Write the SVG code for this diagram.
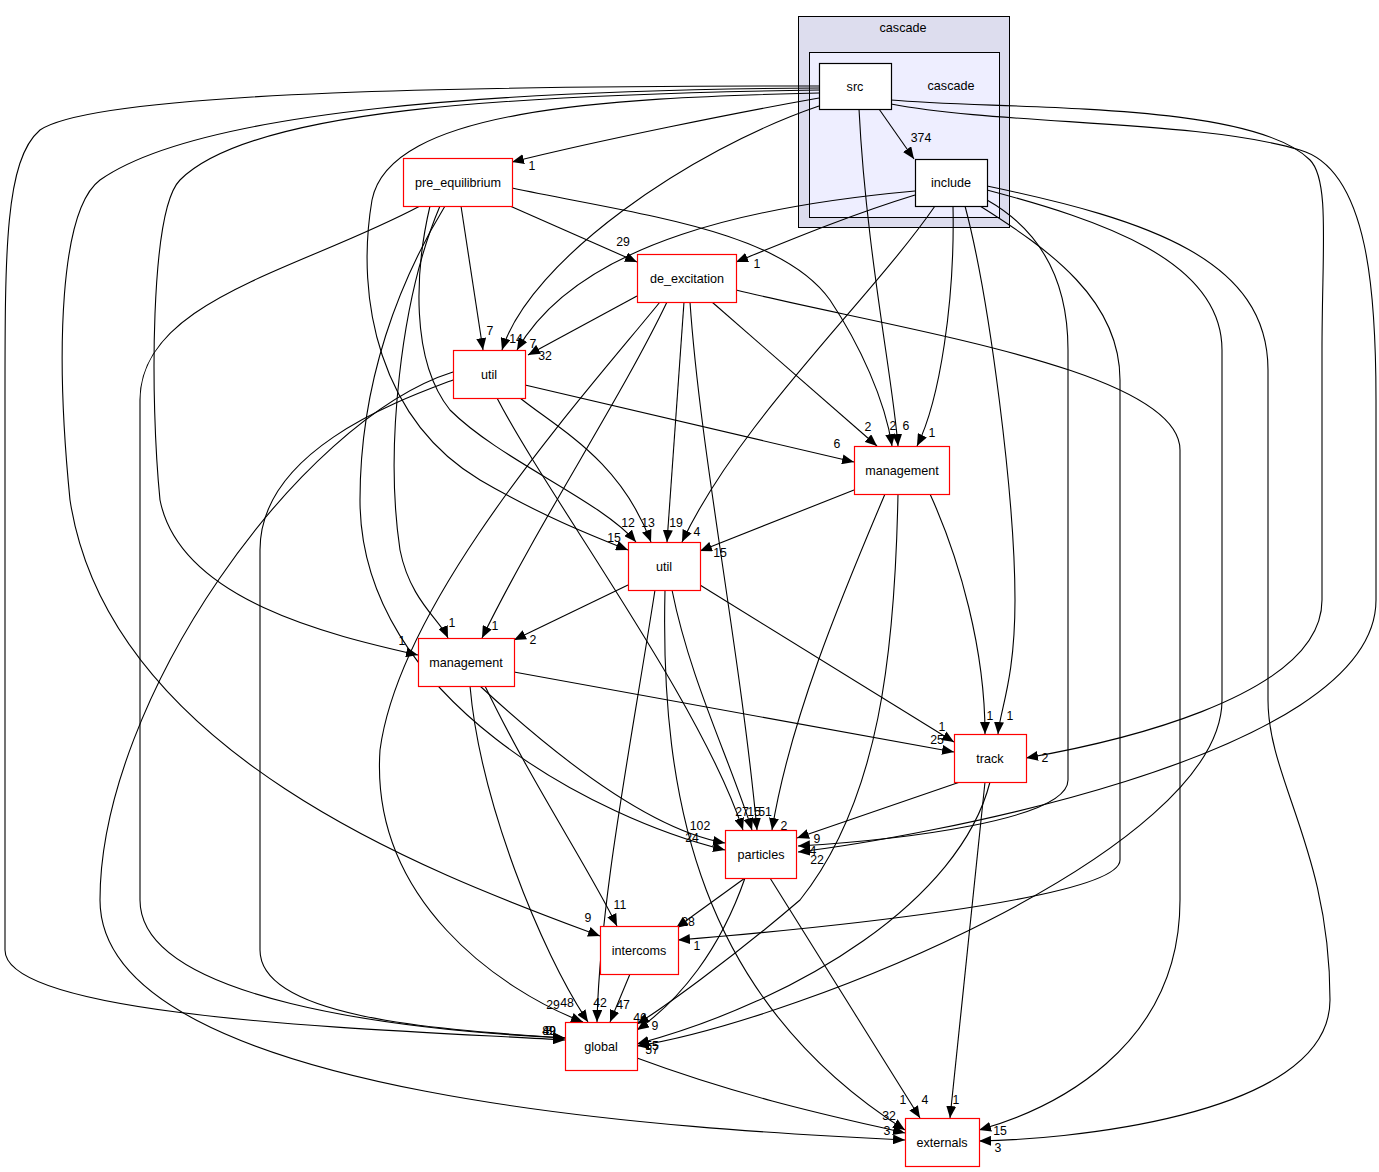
<svg xmlns="http://www.w3.org/2000/svg" width="1379" height="1172" viewBox="0 0 1379 1172">
<style>
text{font-family:"Liberation Sans",Arial,sans-serif;font-size:12.6px;fill:#000}
.n text,.c text{text-anchor:middle}
.n rect{fill:#fff;stroke:#ff0000;stroke-width:1.2}
.n.w rect{stroke:#000}
.e path{fill:none;stroke:#000;stroke-width:1.1;marker-end:url(#ah)}
.l text{text-anchor:middle;font-size:12.3px}
</style>
<defs>
<marker id="ah" markerUnits="userSpaceOnUse" markerWidth="12" markerHeight="10" refX="12" refY="5" orient="auto">
<path d="M0,0 L12,5 L0,10 z" fill="#000"/>
</marker>
</defs>
<rect width="1379" height="1172" fill="#fff"/>
<g class="c" id="cluster_outer">
<rect x="798.5" y="16.5" width="211" height="211" fill="#ddddee" stroke="#000"/>
<text x="903" y="32">cascade</text>
</g>
<g class="c" id="cluster_inner">
<rect x="809.5" y="52.5" width="190" height="165" fill="#eeeeff" stroke="#000"/>
<text x="951" y="90">cascade</text>
</g>
<g class="e" id="edges">
<path d="M879,109 L914,159"/>
<path d="M819,98 C740,112 600,140 512,162"/>
<path d="M859,109 C866,250 893,380 898,446"/>
<path d="M819,106 C690,150 530,260 502,350"/>
<path d="M819,93 C600,98 390,110 372,200 C355,300 380,420 480,480 C540,515 590,535 628,550"/>
<path d="M819,90 C500,95 250,110 180,180 C150,210 150,400 160,500 C180,600 330,635 418,655"/>
<path d="M819,88 C500,90 200,110 100,180 C60,210 55,350 70,500 C110,760 450,880 600,936"/>
<path d="M819,86 C500,86 100,90 40,130 C5,160 5,250 5,400 L5,950 C5,1020 400,1030 565,1040"/>
<path d="M891,100 C1000,110 1250,100 1310,160 C1330,180 1322,250 1322,350 L1322,600 C1322,700 1100,745 1026,758"/>
<path d="M891,104 C1000,125 1200,120 1300,150 C1370,170 1376,300 1376,400 L1376,600 C1376,760 900,840 798,852"/>
<path d="M915,191 C760,205 580,240 517,350"/>
<path d="M915,195 C850,215 790,240 736,262"/>
<path d="M935,206 C870,300 740,420 682,542"/>
<path d="M953,206 C955,300 940,400 917,446"/>
<path d="M965,206 C990,300 1015,500 1015,600 C1015,680 1000,710 998,734"/>
<path d="M987,200 C1040,230 1068,280 1068,350 L1068,780 C1068,820 900,840 798,846"/>
<path d="M980,206 C1050,250 1120,300 1120,380 L1120,860 C1120,900 800,930 678,940"/>
<path d="M987,190 C1100,220 1222,260 1222,350 L1222,700 C1222,850 800,1020 637,1046"/>
<path d="M987,186 C1150,220 1268,260 1268,370 L1268,700 C1268,780 1330,850 1330,1000 C1330,1120 1050,1140 979,1141"/>
<path d="M510,206 L637,262"/>
<path d="M461,206 L483,350"/>
<path d="M512,188 C640,215 780,230 830,300 C860,345 885,400 892,446"/>
<path d="M430,206 C415,270 410,360 450,410 C500,460 600,500 636,542"/>
<path d="M440,206 C400,300 385,450 400,550 C410,600 440,620 448,638"/>
<path d="M445,206 C400,280 360,380 360,500 C360,700 600,820 725,850"/>
<path d="M420,206 C300,270 140,300 140,400 L140,900 C140,1000 400,1030 565,1038"/>
<path d="M637,296 L528,355"/>
<path d="M712,302 L877,446"/>
<path d="M684,302 L667,542"/>
<path d="M667,302 C620,400 540,520 482,638"/>
<path d="M690,302 C700,450 740,650 757,830"/>
<path d="M660,302 C580,400 400,600 380,750 C370,900 500,990 583,1022"/>
<path d="M736,290 C900,330 1180,370 1180,450 L1180,900 C1180,1050 1050,1110 979,1130"/>
<path d="M525,385 L854,462"/>
<path d="M520,398 C560,430 620,460 651,542"/>
<path d="M497,398 C550,500 700,700 743,830"/>
<path d="M453,380 C400,400 260,450 260,550 L260,950 C260,1020 450,1030 565,1038"/>
<path d="M453,372 C300,420 100,700 100,900 C100,1100 700,1130 905,1140"/>
<path d="M854,490 L700,551"/>
<path d="M930,494 C960,560 985,650 985,734"/>
<path d="M885,494 C840,600 790,720 772,830"/>
<path d="M898,494 C895,650 880,800 800,900 C730,960 660,1010 637,1024"/>
<path d="M628,585 L514,640"/>
<path d="M700,585 L954,742"/>
<path d="M672,590 C690,680 730,760 752,830"/>
<path d="M655,590 C630,750 600,900 597,1022"/>
<path d="M665,590 C660,800 700,1000 905,1130"/>
<path d="M514,672 L954,752"/>
<path d="M480,686 C560,760 650,830 725,843"/>
<path d="M485,686 C530,780 590,870 617,926"/>
<path d="M470,686 C480,800 540,950 588,1022"/>
<path d="M960,782 L797,838"/>
<path d="M990,782 C960,900 800,1000 637,1044"/>
<path d="M985,782 L950,1118"/>
<path d="M745,878 L676,928"/>
<path d="M745,878 C720,950 680,1000 637,1030"/>
<path d="M770,878 L920,1118"/>
<path d="M630,974 L610,1022"/>
<path d="M637,1058 C750,1100 850,1120 905,1133"/>
</g>
<g class="l" id="edge_labels">
<text x="921" y="142">374</text>
<text x="532" y="170">1</text>
<text x="906" y="430">6</text>
<text x="516" y="343">14</text>
<text x="614" y="542">15</text>
<text x="402" y="645">1</text>
<text x="588" y="922">9</text>
<text x="549" y="1035">89</text>
<text x="1045" y="762">2</text>
<text x="813" y="855">4</text>
<text x="533" y="348">7</text>
<text x="757" y="268">1</text>
<text x="697" y="536">4</text>
<text x="932" y="437">1</text>
<text x="1010" y="720">1</text>
<text x="817" y="864">22</text>
<text x="697" y="950">1</text>
<text x="652" y="1054">57</text>
<text x="998" y="1152">3</text>
<text x="623" y="246">29</text>
<text x="490" y="335">7</text>
<text x="893" y="430">2</text>
<text x="628" y="527">12</text>
<text x="452" y="627">1</text>
<text x="692" y="842">24</text>
<text x="549" y="1035">8</text>
<text x="545" y="360">32</text>
<text x="868" y="431">2</text>
<text x="676" y="527">19</text>
<text x="495" y="630">1</text>
<text x="765" y="816">51</text>
<text x="553" y="1009">29</text>
<text x="1000" y="1135">15</text>
<text x="837" y="448">6</text>
<text x="648" y="527">13</text>
<text x="742" y="816">27</text>
<text x="549" y="1035">49</text>
<text x="887" y="1135">3</text>
<text x="720" y="557">15</text>
<text x="990" y="720">1</text>
<text x="784" y="830">2</text>
<text x="640" y="1022">46</text>
<text x="533" y="644">2</text>
<text x="942" y="731">1</text>
<text x="754" y="816">15</text>
<text x="600" y="1007">42</text>
<text x="903" y="1104">1</text>
<text x="937" y="744">25</text>
<text x="700" y="830">102</text>
<text x="620" y="909">11</text>
<text x="567" y="1007">48</text>
<text x="817" y="843">9</text>
<text x="652" y="1050">55</text>
<text x="956" y="1104">1</text>
<text x="688" y="926">28</text>
<text x="655" y="1030">9</text>
<text x="925" y="1104">4</text>
<text x="623" y="1009">47</text>
<text x="889" y="1120">32</text>
</g>
<g class="n w" id="node_src"><rect x="819.5" y="63.5" width="72" height="46"/><text x="855" y="90.5">src</text></g>
<g class="n w" id="node_include"><rect x="915.5" y="159.5" width="72" height="47"/><text x="951" y="186.5">include</text></g>
<g class="n" id="node_pre_equilibrium"><rect x="403.5" y="158.5" width="109" height="48"/><text x="458" y="186.5">pre_equilibrium</text></g>
<g class="n" id="node_de_excitation"><rect x="637.5" y="254.5" width="99" height="48"/><text x="687" y="282.5">de_excitation</text></g>
<g class="n" id="node_util_top"><rect x="453.5" y="350.5" width="72" height="48"/><text x="489" y="378.5">util</text></g>
<g class="n" id="node_management_right"><rect x="854.5" y="446.5" width="95" height="48"/><text x="902" y="474.5">management</text></g>
<g class="n" id="node_util_mid"><rect x="628.5" y="542.5" width="72" height="48"/><text x="664" y="570.5">util</text></g>
<g class="n" id="node_management_left"><rect x="418.5" y="638.5" width="96" height="48"/><text x="466" y="666.5">management</text></g>
<g class="n" id="node_track"><rect x="954.5" y="734.5" width="72" height="48"/><text x="990" y="762.5">track</text></g>
<g class="n" id="node_particles"><rect x="725.5" y="830.5" width="71" height="48"/><text x="761" y="858.5">particles</text></g>
<g class="n" id="node_intercoms"><rect x="600.5" y="926.5" width="78" height="48"/><text x="639" y="954.5">intercoms</text></g>
<g class="n" id="node_global"><rect x="565.5" y="1022.5" width="72" height="48"/><text x="601" y="1050.5">global</text></g>
<g class="n" id="node_externals"><rect x="905.5" y="1118.5" width="74" height="48"/><text x="942" y="1146.5">externals</text></g>
</svg>
